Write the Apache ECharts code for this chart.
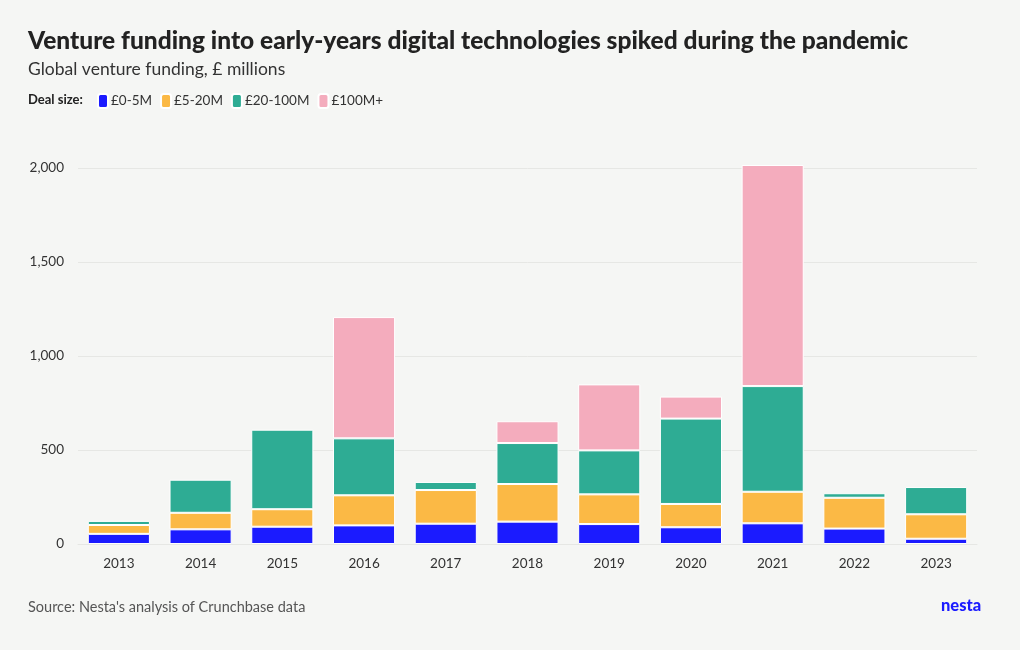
<!DOCTYPE html>
<html><head><meta charset="utf-8">
<script src="https://cdn.jsdelivr.net/npm/echarts@6/dist/echarts.min.js"></script>
<style>html,body{margin:0;padding:0;background:#f5f6f4}#c{width:1020px;height:650px}</style>
</head><body><div id="c"></div>
<script>
const years = ['2013','2014','2015','2016','2017','2018','2019','2020','2021','2022','2023'];
const deal0to5 = [54, 78, 92, 99, 108, 119, 106, 89, 110, 82, 28];
const deal5to20 = [47, 88, 93, 160, 179, 200, 158, 124, 168, 164, 130];
const deal20to100 = [22, 176, 423, 303, 43, 218, 234, 454, 562, 24, 145];
const deal100plus = [0, 0, 0, 645, 0, 116, 351, 117, 1176, 0, 0];
const seriesNames = ['£0-5M','£5-20M','£20-100M','£100M+'];
const colors = ['#1b1bff','#fbb945','#2eac94','#f4acbd'];
const yTicks = [0, 500, 1000, 1500, 2000];

const font = 'Lato, "Noto Sans", sans-serif';
const chart = echarts.init(document.getElementById('c'));
const dataSets = [deal0to5, deal5to20, deal20to100, deal100plus];
chart.setOption({
  backgroundColor: '#f5f6f4',
  textStyle: {fontFamily: font},
  title: [
    {text: 'Venture funding into early-years digital technologies spiked during the pandemic', left: 23, top: 24,
     textStyle: {fontFamily: font, fontSize: 24.5, fontWeight: 900, color: '#222'}},
    {text: 'Global venture funding, £ millions', left: 23, top: 55,
     textStyle: {fontFamily: font, fontSize: 17.5, fontWeight: 'normal', color: '#333'}},
    {text: 'Source: Nesta\'s analysis of Crunchbase data', left: 23, top: 595,
     textStyle: {fontFamily: font, fontSize: 14.5, fontWeight: 'normal', color: '#555'}},
    {text: 'nesta', left: 936, top: 592,
     textStyle: {fontFamily: font, fontSize: 16.5, fontWeight: 900, color: '#1b1bff'}}
  ],
  graphic: [{type: 'text', left: 28, top: 93, style: {text: 'Deal size:', font: 'bold 13px ' + font, fill: '#222'}}],
  legend: {
    left: 92, top: 88, icon: 'roundRect', itemWidth: 10, itemHeight: 14, itemGap: 8,
    selectedMode: false,
    textStyle: {fontFamily: font, fontSize: 13.5, color: '#333', padding: [0,0,0,-2]},
    data: seriesNames
  },
  grid: {left: 78, right: 43, top: 168, bottom: 106, containLabel: false},
  xAxis: {
    type: 'category', data: years,
    axisLine: {show: true, lineStyle: {color: '#e6e7e4'}}, axisTick: {show: false},
    axisLabel: {color: '#333', fontSize: 13.5, margin: 13, fontFamily: font}
  },
  yAxis: {
    type: 'value', min: yTicks[0], max: yTicks[yTicks.length-1], interval: 500,
    axisLine: {show: false}, axisTick: {show: false},
    splitLine: {lineStyle: {color: '#e6e7e4'}},
    axisLabel: {color: '#333', fontSize: 13.5, margin: 14, fontFamily: font,
      formatter: v => v.toLocaleString('en-US')}
  },
  series: seriesNames.map((n, i) => ({
    name: n, type: 'bar', stack: 'a', clip: false, barCategoryGap: '24%',
    itemStyle: {color: colors[i], borderColor: '#ffffff', borderWidth: 1},
    data: dataSets[i].map(v => v === 0 ? null : v)
  })),
  animation: false
});
</script></body></html>
